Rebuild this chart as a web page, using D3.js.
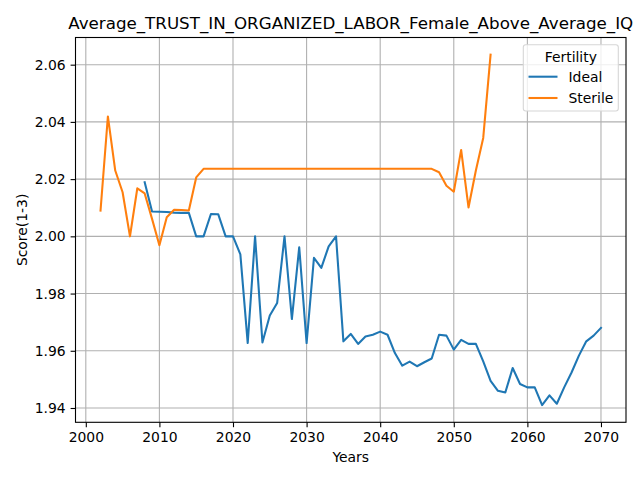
<!DOCTYPE html>
<html><head><meta charset="utf-8">
<script src="https://cdn.jsdelivr.net/npm/d3@7"></script>
<style>body{margin:0;background:#fff}svg{display:block}text{font-family:"DejaVu Sans",sans-serif;fill:#000}</style>
</head><body><svg id="c" width="640" height="480"></svg>
<script>
const chartTitle = "Average_TRUST_IN_ORGANIZED_LABOR_Female_Above_Average_IQ";
const seriesNames = ["Ideal", "Sterile"];
const idealYears = d3.range(2008, 2071);
const idealValues = [2.0189, 2.0087, 2.0086, 2.0085, 2.0083, 2.0082, 2.0082, 2.0000, 2.0000, 2.0078, 2.0077,
  2.0000, 2.0000, 1.9937, 1.9627, 2.0000, 1.9629, 1.9723, 1.9767, 2.0000, 1.9711, 1.9962, 1.9627,
  1.9925, 1.9890, 1.9965, 2.0000, 1.9633, 1.9659, 1.9624, 1.9650, 1.9656, 1.9667, 1.9656, 1.9592,
  1.9548, 1.9562, 1.9546, 1.9560, 1.9573, 1.9656, 1.9653, 1.9604, 1.9638, 1.9624, 1.9624, 1.9563,
  1.9495, 1.9460, 1.9454, 1.9540, 1.9484, 1.9472, 1.9472, 1.9410, 1.9444, 1.9415, 1.9472, 1.9524,
  1.9583, 1.9633, 1.9653, 1.9680];
const sterileYears = d3.range(2002, 2056);
const sterileValues = [2.0090, 2.0419, 2.0230, 2.0154, 2.0000, 2.0168, 2.0150, 2.0061, 1.9969, 2.0067,
  2.0093, 2.0092, 2.0090, 2.0206, 2.0236, 2.0236, 2.0236, 2.0236, 2.0236, 2.0236, 2.0236, 2.0236,
  2.0236, 2.0236, 2.0236, 2.0236, 2.0236, 2.0236, 2.0236, 2.0236, 2.0236, 2.0236, 2.0236, 2.0236,
  2.0236, 2.0236, 2.0236, 2.0236, 2.0236, 2.0236, 2.0236, 2.0236, 2.0236, 2.0236, 2.0236, 2.0236,
  2.0224, 2.0177, 2.0156, 2.0302, 2.0101, 2.0230, 2.0344, 2.0635];
const xTicks = [2000, 2010, 2020, 2030, 2040, 2050, 2060, 2070];
const yTicks = [1.94, 1.96, 1.98, 2.00, 2.02, 2.04, 2.06];
const colors = ["#1f77b4", "#ff7f0e"];

const L = 75.5, R = 626, T = 37.5, B = 422.3;
const svg = d3.select("#c");
const x = d3.scaleLinear().domain([1998.6, 2073.4]).range([L, R]);
const y = d3.scaleLinear().domain([1.935, 2.0695]).range([B, T]);

// grid
const g = svg.append("g");
g.selectAll(".gx").data(xTicks).enter().append("line")
  .attr("x1", d => x(d)).attr("x2", d => x(d)).attr("y1", T).attr("y2", B)
  .attr("stroke", "#b0b0b0").attr("stroke-width", 1.1);
g.selectAll(".gy").data(yTicks).enter().append("line")
  .attr("y1", d => y(d)).attr("y2", d => y(d)).attr("x1", L).attr("x2", R)
  .attr("stroke", "#b0b0b0").attr("stroke-width", 1.1);

// lines
const line = d3.line().x(d => x(d[0])).y(d => y(d[1]));
const series = [d3.zip(idealYears, idealValues), d3.zip(sterileYears, sterileValues)];
series.forEach((s, i) => {
  svg.append("path").datum(s).attr("d", line).attr("fill", "none")
    .attr("stroke", colors[i]).attr("stroke-width", 2.08).attr("stroke-linecap", "square")
    .attr("stroke-linejoin", "round");
});

// axes
const xAxis = svg.append("g").attr("transform", `translate(0,${B})`)
  .call(d3.axisBottom(x).tickValues(xTicks).tickFormat(d3.format("d")).tickSize(4.9).tickPadding(4.9));
const yAxis = svg.append("g").attr("transform", `translate(${L},0)`)
  .call(d3.axisLeft(y).tickValues(yTicks).tickFormat(d3.format(".2f")).tickSize(4.9).tickPadding(4.9));
[xAxis, yAxis].forEach(a => {
  a.select(".domain").remove();
  a.selectAll("line").attr("stroke", "#000").attr("stroke-width", 1.1);
  a.selectAll("text").attr("font-size", "13.9px").attr("font-family", "DejaVu Sans").attr("fill", "#000");
});
// frame
svg.append("rect").attr("x", L).attr("y", T).attr("width", R - L).attr("height", B - T)
  .attr("fill", "none").attr("stroke", "#000").attr("stroke-width", 1.1);

// titles
svg.append("text").attr("x", (L + R) / 2).attr("y", 29).attr("text-anchor", "middle")
  .attr("font-size", "16.7px").text(chartTitle);
svg.append("text").attr("x", (L + R) / 2).attr("y", 462).attr("text-anchor", "middle")
  .attr("font-size", "13.9px").text("Years");
svg.append("text").attr("transform", `translate(27,${(T + B) / 2}) rotate(-90)`).attr("text-anchor", "middle")
  .attr("font-size", "13.9px").text("Score(1-3)");

// legend
const lg = svg.append("g");
lg.append("rect").attr("x", 523.3).attr("y", 44.7).attr("width", 95).attr("height", 66.3)
  .attr("rx", 2.5).attr("fill", "#fff").attr("fill-opacity", 0.8).attr("stroke", "#d6d6d6").attr("stroke-width", 1.1);
lg.append("text").attr("x", 570.8).attr("y", 61.5).attr("text-anchor", "middle").attr("font-size", "13.9px").text("Fertility");
seriesNames.forEach((n, i) => {
  const yy = 76.7 + i * 21.3;
  lg.append("line").attr("x1", 528.5).attr("x2", 557.5).attr("y1", yy).attr("y2", yy)
    .attr("stroke", colors[i]).attr("stroke-width", 2.08);
  lg.append("text").attr("x", 568.5).attr("y", yy + 5).attr("font-size", "13.9px").text(n);
});
</script></body></html>
